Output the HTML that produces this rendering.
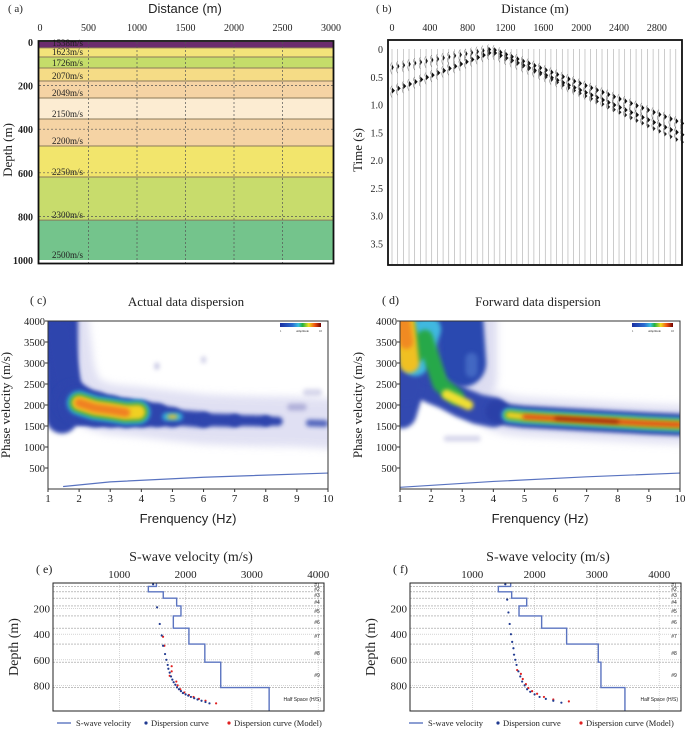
<!DOCTYPE html>
<html><head><meta charset="utf-8"><style>
body{margin:0;background:#fff}
svg text{font-family:"Liberation Serif",serif;fill:#222}
.sans{font-family:"Liberation Sans",sans-serif!important}
</style></head><body>
<svg id="fig" width="685" height="730" viewBox="0 0 685 730" xmlns="http://www.w3.org/2000/svg">
<defs>
<filter id="bl" filterUnits="userSpaceOnUse" x="0" y="0" width="685" height="730"><feGaussianBlur stdDeviation="2.2"/></filter>
<filter id="bl2" filterUnits="userSpaceOnUse" x="0" y="0" width="685" height="730"><feGaussianBlur stdDeviation="4"/></filter>
<linearGradient id="cb" x1="0" x2="1"><stop offset="0" stop-color="#1a2fa0"/><stop offset="0.3" stop-color="#2a6ad0"/><stop offset="0.45" stop-color="#3cc0e0"/><stop offset="0.55" stop-color="#20b040"/><stop offset="0.7" stop-color="#f0e020"/><stop offset="0.85" stop-color="#f05010"/><stop offset="1" stop-color="#700000"/></linearGradient>
<clipPath id="cpc"><rect x="48" y="321" width="280" height="168"/></clipPath>
<clipPath id="cpd"><rect x="400" y="321" width="280" height="168"/></clipPath>
</defs>
<g id="pa"></g>
<g id="pb"></g>
<g id="pc"></g>
<g id="pd"></g>
<g id="pe"></g>
<g id="pf"></g>
</svg>
<script>
// ---- data ----
const layerTops=[0,27,69,119,179,257,353,477,619,817];
const layerBottoms=[27,69,119,179,257,353,477,619,817,1000];
const layerColors=["#6b2c6e","#f3e37a","#c5dd6a","#f5dc86","#f5d3a4","#fcecd2","#f5d3a4","#f2e56c","#c8dc6c","#74c48c"];
const layerLabels=["1538m/s","1623m/s","1726m/s","2070m/s","2049m/s","2150m/s","2200m/s","2250m/s","2300m/s","2500m/s"];
const distTicks=[0,500,1000,1500,2000,2500,3000];
const depthTicks=[0,200,400,600,800,1000];
const bDistTicks=[0,400,800,1200,1600,2000,2400,2800];
const timeTicks=[0,0.5,1.0,1.5,2.0,2.5,3.0,3.5];
const eventAX=[0,1050,3000], eventAT=[0.75,0.05,1.5];
const eventBX=[0,1050,3000], eventBT=[0.33,0.0,1.3];
const eventCX=[1150,3000], eventCT=[0.12,1.63];
const freqTicks=[1,2,3,4,5,6,7,8,9,10];
const velTicks=[500,1000,1500,2000,2500,3000,3500,4000];
const cRidgeF=[1.8,2,2.5,3,3.5,4,4.5,5,6,7,8,8.4];
const cRidgeV=[2100,1980,1900,1850,1810,1790,1760,1710,1650,1630,1620,1610];
const cRidgeW=[40,38,34,30,28,26,22,18,14,12,10,8];
const cStemF=[1.35,1.5,1.7,1.9];
const cStemV=[3700,3000,2300,2050];
const cHotF=[2,2.5,3,3.5,3.9], cHotV=[2050,1930,1880,1820,1830];
const dRidgeF=[4.1,4.5,5,6,7,8,9,10];
const dRidgeV=[1850,1760,1720,1680,1640,1600,1560,1530];
const dUpF=[1.05,1.5,1.8,2,2.5,3,3.5,4];
const dUpV=[1800,2900,2650,2400,2250,2050,1900,1830];
const swTicks=[1000,2000,3000,4000];
const profDepthTicks=[200,400,600,800];
const eStepV=[1560,1438,1663,1865,1930,1815,2050,2290,2530,3260];
const fStepV=[1616,1418,1632,1873,1750,2113,2514,3022,3065,3450];
const eBlueV=[1510,1570,1610,1640,1660,1690,1710,1730,1740,1760,1780,1800,1820,1845,1870,1900,1930,1960,2000,2040,2080,2130,2180,2240,2300,2360];
const eBlueD=[10,190,320,410,490,555,600,640,670,700,730,755,775,795,815,830,845,860,870,880,890,900,910,920,930,940];
const eRedV=[1660,1680,1790,1790,1760,1860,1880,1920,1980,2050,2120,2200,2300,2460];
const eRedD=[420,490,650,690,725,770,800,830,855,875,890,905,920,940];
const fBlueV=[1530,1560,1580,1600,1620,1640,1660,1670,1690,1710,1740,1770,1800,1840,1880,1930,2000,2080,2180,2300,2430];
const fBlueD=[10,130,230,320,400,460,510,560,600,640,690,730,770,800,830,850,870,890,905,920,935];
const fRedV=[1720,1780,1810,1860,1900,1960,2040,2150,2300,2550];
const fRedD=[680,710,750,790,820,845,865,890,910,925];

const NS="http://www.w3.org/2000/svg";
function mk(p,tag,at,txt){const e=document.createElementNS(NS,tag);for(const k in at)e.setAttribute(k,at[k]);if(txt!==undefined)e.textContent=txt;p.appendChild(e);return e;}
function lerp(xs,ts,x){for(let i=0;i<xs.length-1;i++){if(x<=xs[i+1]||i==xs.length-2){return ts[i]+(ts[i+1]-ts[i])*(x-xs[i])/(xs[i+1]-xs[i]);}}}

// ---- panel a ----
(function(){
const g=document.getElementById('pa');
const X=d=>40+d*0.097, Y=d=>42+d*0.218;
for(let i=0;i<layerTops.length;i++){
 const r=mk(g,'rect',{x:39,y:Y(layerTops[i]),width:294,height:Y(layerBottoms[i])-Y(layerTops[i]),fill:layerColors[i]});
 
 if(i>0)mk(g,'line',{x1:39,x2:333,y1:Y(layerTops[i]),y2:Y(layerTops[i]),stroke:'#8a7a5a','stroke-width':1});
 const t=mk(g,'text',{x:52,y:Y(layerBottoms[i])-2,'font-size':9,fill:'#333'},layerLabels[i]);
 
}
distTicks.forEach(d=>{ if(d>0&&d<3000)mk(g,'line',{x1:X(d),x2:X(d),y1:42,y2:263,stroke:'#555','stroke-width':0.7,'stroke-dasharray':'2,2'});
 const t=mk(g,'text',{x:X(d),y:31,'font-size':10,'text-anchor':'middle'},d);});
depthTicks.forEach(d=>{ if(d>0&&d<1000)mk(g,'line',{x1:39,x2:333,y1:Y(d),y2:Y(d),stroke:'#555','stroke-width':0.7,'stroke-dasharray':'2,2'});
 const t=mk(g,'text',{x:33,y:Y(d)+4,'font-size':10,'text-anchor':'end','font-weight':'bold'},d);});
mk(g,'rect',{x:38.5,y:41,width:295,height:222.5,fill:'none',stroke:'#111','stroke-width':1.8});
let t=mk(g,'text',{x:8,y:12,'font-size':11},'( a)');
t=mk(g,'text',{x:185,y:13,'font-size':13,'text-anchor':'middle',class:'sans'},'Distance (m)');
t=mk(g,'text',{x:0,y:0,'font-size':13,'text-anchor':'middle',transform:'translate(12,150) rotate(-90)'},'Depth (m)');
})();

// ---- panel b ----
(function(){
const g=document.getElementById('pb');
const X=d=>392+d*0.0946, Y=t=>49+t*55.5;
mk(g,'rect',{x:388,y:40,width:294,height:225,fill:'#fff'});
for(let i=0;i<=51;i++){
 const d=i*60, x=X(d);
 mk(g,'line',{x1:x,x2:x,y1:49,y2:264,stroke:'#aaa','stroke-width':0.6});
 [[eventAX,eventAT,1],[eventBX,eventBT,(d<1000?0.6:0.9)]].forEach(([ex,et,s])=>{
  const tt=lerp(ex,et,d), y=Y(tt);
  const p=mk(g,'path',{d:`M${x} ${y-3} L${x+3*s} ${y} L${x} ${y+3} Z`,fill:'#111'});
  
  mk(g,'path',{d:`M${x} ${y-5} Q${x-2.5} ${y-2} ${x} ${y} Q${x-2.5} ${y+3} ${x} ${y+7}`,fill:'none',stroke:'#666','stroke-width':0.5});
 });
 if(d>=1150){const y=Y(lerp(eventCX,eventCT,d));mk(g,'path',{d:`M${x} ${y-2.5} L${x+2.5} ${y} L${x} ${y+2.5} Z`,fill:'#222'});}
}
bDistTicks.forEach(d=>{const t=mk(g,'text',{x:X(d),y:31,'font-size':10,'text-anchor':'middle'},d);});
timeTicks.forEach(v=>{const t=mk(g,'text',{x:383,y:Y(v)+4,'font-size':10,'text-anchor':'end'},v===0?'0':v.toFixed(1));});
mk(g,'rect',{x:388,y:40,width:294,height:225,fill:'none',stroke:'#111','stroke-width':1.8});
let t=mk(g,'text',{x:376,y:12,'font-size':11},'( b)');
t=mk(g,'text',{x:535,y:13,'font-size':13,'text-anchor':'middle'},'Distance (m)');
t=mk(g,'text',{x:0,y:0,'font-size':13,'text-anchor':'middle',transform:'translate(362,150) rotate(-90)'},'Time (s)');
})();

// ---- dispersion panels ----
function dispAxes(g,x0,label,title){
 const X=f=>x0+(f-1)*(280/9), Y=v=>489-v*0.042;
 freqTicks.forEach(f=>{mk(g,'line',{x1:X(f),x2:X(f),y1:489,y2:492,stroke:'#333'});const t=mk(g,'text',{x:X(f),y:502,'font-size':11,'text-anchor':'middle'},f);});
 velTicks.forEach(v=>{mk(g,'line',{x1:x0-3,x2:x0,y1:Y(v),y2:Y(v),stroke:'#333'});const t=mk(g,'text',{x:x0-3,y:Y(v)+4,'font-size':10.5,'text-anchor':'end'},v);});
 mk(g,'rect',{x:x0,y:321,width:280,height:168,fill:'none',stroke:'#333','stroke-width':1});
 let t=mk(g,'text',{x:x0-18,y:304,'font-size':12},label);
 t=mk(g,'text',{x:x0+138,y:306,'font-size':13,'text-anchor':'middle'},title);
 t=mk(g,'text',{x:x0+140,y:523,'font-size':13,'text-anchor':'middle',class:'sans'},'Frenquency (Hz)');
 t=mk(g,'text',{x:0,y:0,'font-size':13,'text-anchor':'middle',transform:`translate(${x0-38},405) rotate(-90)`},'Phase velocity (m/s)');
 const cbx=x0+232;
 const c=mk(g,'rect',{x:cbx,y:323,width:41,height:4,fill:'url(#cb)'});
 mk(g,'text',{x:cbx,y:332,'font-size':3},'1');mk(g,'text',{x:cbx+16,y:332,'font-size':3},'Amplitude');mk(g,'text',{x:cbx+39,y:332,'font-size':3},'10');
}
function ridge(g,X,Y,fs,vs,w,col,op,filt){
 const pts=fs.map((f,i)=>X(f)+','+Y(vs[i])).join(' ');
 const at={points:pts,fill:'none',stroke:col,'stroke-width':w,'stroke-linecap':'round','stroke-linejoin':'round',opacity:op};
 if(filt!=='none')at.filter='url(#'+(filt||'bl')+')';
 const p=mk(g,'polyline',at);
 return p;
}
(function(){
 const g=document.getElementById('pc');
 const X=f=>48+(f-1)*(280/9), Y=v=>489-v*0.042;
 mk(g,'rect',{x:48,y:321,width:280,height:168,fill:'#fff'});
 const k=mk(g,'g',{'clip-path':'url(#cpc)'});
 ridge(k,X,Y,[1.5,1.7,2,2.5,3,4,5,6,7,8,9,10],[4000,2800,2200,2000,1900,1830,1740,1660,1630,1610,1600,1560],50,'#d4d4ee',0.7,'bl2');
 ridge(k,X,Y,[1.45,1.45],[4100,1700],32,'#2e44ad',1);
 ridge(k,X,Y,[1.2,1.2],[4100,3200],22,'#2e44ad',1);
 ridge(k,X,Y,cStemF,cStemV,26,'#2e44ad',1);
 for(let i=0;i<cRidgeF.length-1;i++){
  ridge(k,X,Y,[cRidgeF[i],cRidgeF[i+1]],[cRidgeV[i],cRidgeV[i+1]],(cRidgeW[i]+cRidgeW[i+1])/2,'#2e44ad',1);
 }
 ridge(k,X,Y,[9.4,9.9],[1570,1560],7,'#3348b0',0.8);
 ridge(k,X,Y,[8.8,9.2],[1950,1950],7,'#9090c8',0.6);
 ridge(k,X,Y,[9.3,9.7],[2300,2300],7,'#b0b0d8',0.5);
 ridge(k,X,Y,[4.5,4.5],[2900,2950],5,'#a0a0d0',0.6);
 ridge(k,X,Y,[6,6],[3050,3100],5,'#b0b0d8',0.6);
 ridge(k,X,Y,cHotF,cHotV,24,'#30b0e0',1);
 ridge(k,X,Y,cHotF,cHotV,19,'#20a040',1);
 ridge(k,X,Y,cHotF,cHotV,15,'#f0d020',1);
 ridge(k,X,Y,cHotF.slice(0,4),cHotV.slice(0,4),9,'#f08020',1);
 ridge(k,X,Y,[4.8,5.2],[1720,1720],8,'#30b0e0',1);
 ridge(k,X,Y,[4.9,5.1],[1720,1720],4,'#f0c020',1);
 ridge(k,X,Y,[1.5,3,6,10],[60,170,280,380],1.2,'#3050b0',0.8,'none');
 dispAxes(g,48,'( c)','Actual data dispersion');
})();
(function(){
 const g=document.getElementById('pd');
 const X=f=>400+(f-1)*(280/9), Y=v=>489-v*0.042;
 mk(g,'rect',{x:400,y:321,width:280,height:168,fill:'#fff'});
 const k=mk(g,'g',{'clip-path':'url(#cpd)'});
 ridge(k,X,Y,[3.0,3.0],[4100,2700],70,'#c8c8e8',0.6,'bl2');
 ridge(k,X,Y,[2.9,3.0],[4100,3000],48,'#2a48b0',1);
 ridge(k,X,Y,[3.3,3.3],[3100,2800],12,'#4a70c8',0.8);
 ridge(k,X,Y,dRidgeF,dRidgeV,40,'#d0d0ec',0.6,'bl2');
 ridge(k,X,Y,dUpF,dUpV,30,'#3348b0',1);
 ridge(k,X,Y,[1.2,1.2],[4000,2400],30,'#3348b0',1);
 ridge(k,X,Y,[1.9,2.0],[4000,2800],22,'#3348b0',1);
 ridge(k,X,Y,dRidgeF,dRidgeV,22,'#2a40a8',1);
 ridge(k,X,Y,[1.15,1.5,1.9],[4000,3000,3800],26,'#40b8e0',1);
 ridge(k,X,Y,[1.15,1.5,1.8,2.3,2.8],[4000,3200,3600,2500,2200],16,'#28a848',1);
 ridge(k,X,Y,[1.15,1.3],[4000,3000],20,'#f0c020',1);
 ridge(k,X,Y,[1.1,1.2],[4000,3500],14,'#f08a20',1);
 ridge(k,X,Y,[2.5,3.2],[2250,2000],10,'#f0e030',1);
 ridge(k,X,Y,dRidgeF.slice(1),dRidgeV.slice(1),14,'#40c0e0',1);
 ridge(k,X,Y,dRidgeF.slice(1),dRidgeV.slice(1),10,'#28a848',1);
 ridge(k,X,Y,dRidgeF.slice(1),dRidgeV.slice(1),7,'#f0d020',1);
 ridge(k,X,Y,dRidgeF.slice(2),dRidgeV.slice(2),4,'#e03010',1);
 ridge(k,X,Y,[6,8],[1680,1600],2,'#600000',1);
 ridge(k,X,Y,[2.5,3.5],[1200,1200],6,'#b0b0d8',0.5);
 ridge(k,X,Y,[1,4,7,10],[40,180,290,380],1.2,'#3050b0',0.8,'none');
 dispAxes(g,400,'( d)','Forward data dispersion');
})();

// ---- profile panels ----
function profile(gid,x0,sc,xEnd,label,stepV,bV,bD,rV,rD,legX){
 const g=document.getElementById(gid);
 const X=v=>x0+v*sc, Y=d=>583+d*0.128;
 mk(g,'rect',{x:x0,y:583,width:xEnd-x0,height:128,fill:'#fff'});
 swTicks.forEach(v=>mk(g,'line',{x1:X(v),x2:X(v),y1:583,y2:711,stroke:'#bbb','stroke-width':0.6,'stroke-dasharray':'1,1'}));
 profDepthTicks.forEach(d=>mk(g,'line',{x1:x0,x2:xEnd,y1:Y(d),y2:Y(d),stroke:'#bbb','stroke-width':0.6,'stroke-dasharray':'1,1'}));
 layerTops.slice(1).forEach(d=>mk(g,'line',{x1:x0,x2:xEnd,y1:Y(d),y2:Y(d),stroke:'#999','stroke-width':0.6,'stroke-dasharray':'2,1'}));
 let pts=[];
 stepV.forEach((v,i)=>{pts.push(X(v)+','+Y(layerTops[i]));pts.push(X(v)+','+Y(layerBottoms[i]));});
 const pl=mk(g,'polyline',{points:pts.join(' '),fill:'none',stroke:'#5b74c0','stroke-width':1.4});
 
 rV.forEach((v,i)=>{const c=mk(g,'circle',{cx:X(v),cy:Y(rD[i]),r:1.1,fill:'#e02020'});});
 bV.forEach((v,i)=>{const c=mk(g,'circle',{cx:X(v),cy:Y(bD[i]),r:1.1,fill:'#203a90'});});
 const labs=['#1','#2','#3','#4','#5','#6','#7','#8','#9'];
 labs.forEach((l,i)=>{const t=mk(g,'text',{x:xEnd-7,y:Y((layerTops[i]+layerBottoms[i])/2)+2,'font-size':5,'text-anchor':'middle',class:'sans'},l);});
 mk(g,'text',{x:xEnd-3,y:Y(905)+2,'font-size':5,'text-anchor':'end',class:'sans'},'Half Space (H/S)');
 swTicks.forEach(v=>{const t=mk(g,'text',{x:X(v),y:578,'font-size':11,'text-anchor':'middle'},v);});
 profDepthTicks.forEach(d=>{const t=mk(g,'text',{x:x0-3,y:Y(d)+4,'font-size':11,'text-anchor':'end'},d);});
 mk(g,'rect',{x:x0,y:583,width:xEnd-x0,height:128,fill:'none',stroke:'#222','stroke-width':1});
 let t=mk(g,'text',{x:x0-17,y:573,'font-size':12},label);
 t=mk(g,'text',{x:x0+138,y:561,'font-size':14,'text-anchor':'middle'},'S-wave velocity (m/s)');
 t=mk(g,'text',{x:0,y:0,'font-size':14,'text-anchor':'middle',transform:`translate(${x0-35},647) rotate(-90)`},'Depth (m)');
 const lg=mk(g,'g',{});
 mk(lg,'line',{x1:legX,x2:legX+14,y1:723,y2:723,stroke:'#5b74c0','stroke-width':1.4});
 mk(lg,'text',{x:legX+19,y:726,'font-size':8.5},'S-wave velocity');
 mk(lg,'circle',{cx:legX+89,cy:723,r:1.6,fill:'#203a90'});
 mk(lg,'text',{x:legX+94,y:726,'font-size':8.5},'Dispersion curve');
 mk(lg,'circle',{cx:legX+172,cy:723,r:1.6,fill:'#e02020'});
 mk(lg,'text',{x:legX+177,y:726,'font-size':8.5},'Dispersion curve (Model)');
}
profile('pe',53,0.0663,324,'( e)',eStepV,eBlueV,eBlueD,eRedV,eRedD,57);
profile('pf',410,0.0623,681,'( f)',fStepV,fBlueV,fBlueD,fRedV,fRedD,409);
</script>
</body></html>
